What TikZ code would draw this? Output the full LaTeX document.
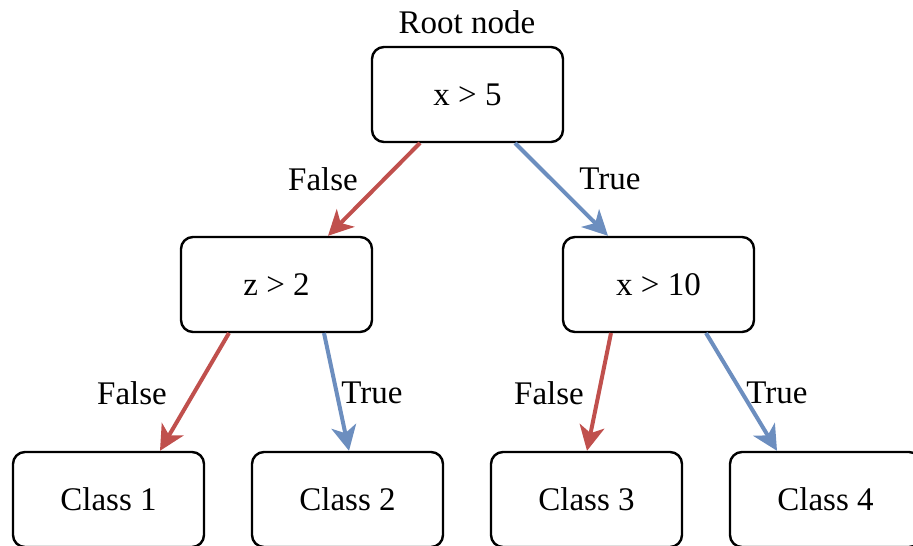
\documentclass[tikz,border=0pt]{standalone}
\usepackage{fontspec}
\setmainfont{Liberation Serif}
\usetikzlibrary{arrows.meta}
\definecolor{fred}{RGB}{192,80,77}
\definecolor{tblue}{RGB}{108,142,191}
\tikzset{
  box/.style={draw=black, line width=2.4pt, rounded corners=12pt, minimum width=191pt, minimum height=95pt, inner sep=0pt, font=\fontsize{33}{38}\selectfont, fill=white},
  lbl/.style={font=\fontsize{33}{38}\selectfont, inner sep=0pt},
  farrow/.style={draw=fred, line width=4pt, -{Stealth[length=25pt,width=25pt,inset=7pt]}},
  tarrow/.style={draw=tblue, line width=4pt, -{Stealth[length=25pt,width=25pt,inset=7pt]}},
}
\begin{document}
\begin{tikzpicture}[x=1pt,y=-1pt]
\useasboundingbox (0,0) rectangle (913,546);
\node[box] (root) at (467.5,94.5) {x > 5};
\node[box] (z) at (276.5,284.5) {z > 2};
\node[box] (x10) at (658.5,284.5) {x > 10};
\node[box] (c1) at (108.5,499.5) {Class 1};
\node[box] (c2) at (347.5,499.5) {Class 2};
\node[box] (c3) at (586.5,499.5) {Class 3};
\node[box] (c4) at (825.5,499.5) {Class 4};
\node[lbl] (rootlbl) at (467,22) {Root node};
\coordinate (r1) at (420,143);
\coordinate (r2) at (515,143);
\coordinate (z1) at (229,333);
\coordinate (z2) at (324,333);
\coordinate (x1) at (611,333);
\coordinate (x2) at (706,333);
\draw[farrow] (r1) -- (z.north -| 328,0);
\draw[tarrow] (r2) -- (x10.north -| 608,0);
\draw[farrow] (z1) -- (c1.north -| 160,0);
\draw[tarrow] (z2) -- (c2.north -| 349,0);
\draw[farrow] (x1) -- (c3.north -| 587,0);
\draw[tarrow] (x2) -- (c4.north -| 777,0);
\node[lbl] (f1) at (323,179) {False};
\node[lbl] (t1) at (610,179) {True};
\node[lbl] (f2) at (132,393) {False};
\node[lbl] (t2) at (372,393) {True};
\node[lbl] (f3) at (549,393) {False};
\node[lbl] (t3) at (777,393) {True};
\end{tikzpicture}
\end{document}
